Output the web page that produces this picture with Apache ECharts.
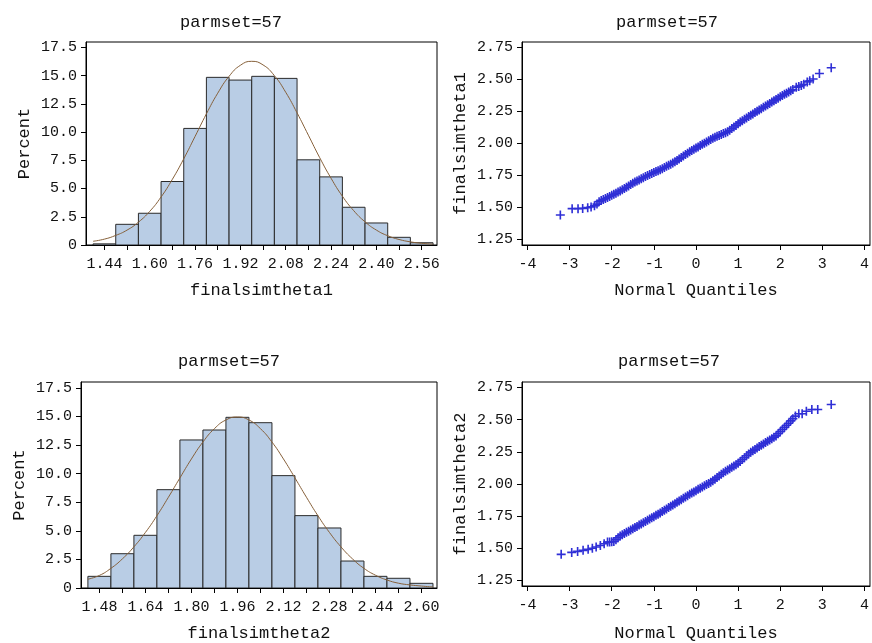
<!DOCTYPE html>
<html>
<head>
<meta charset="utf-8">
<script src="https://cdn.jsdelivr.net/npm/echarts@6/dist/echarts.min.js"></script>
<style>
  html, body { margin: 0; padding: 0; background: #ffffff; }
  #chart { width: 872px; height: 643px; }
</style>
</head>
<body>
<div id="chart"></div>
<script>
// ---- data ----------------------------------------------------------
const panelTitle = 'parmset=57';
const binWidth = 0.08;

// finalsimtheta1 histogram (bin midpoints, percent)
const theta1Mid = [1.44, 1.52, 1.60, 1.68, 1.76, 1.84, 1.92, 2.00, 2.08, 2.16, 2.24, 2.32, 2.40, 2.48, 2.56];
const theta1Pct = [0.1, 1.83, 2.81, 5.62, 10.32, 14.84, 14.6, 14.93, 14.75, 7.54, 6.03, 3.34, 1.95, 0.68, 0.2];
// fitted normal curve for finalsimtheta1
const theta1CurveX = [1.40, 1.44, 1.48, 1.52, 1.56, 1.60, 1.64, 1.68, 1.72, 1.76, 1.80, 1.84, 1.88, 1.92, 1.96, 2.00,
  2.04, 2.08, 2.12, 2.16, 2.20, 2.24, 2.28, 2.32, 2.36, 2.40, 2.44, 2.48, 2.52, 2.56, 2.60];
const theta1CurveY = [0.33, 0.52, 0.85, 1.32, 2.02, 2.98, 4.25, 5.82, 7.63, 9.61, 11.61, 13.44, 14.93, 15.91, 16.26, 15.94,
  14.99, 13.52, 11.70, 9.72, 7.73, 5.91, 4.32, 3.04, 2.05, 1.32, 0.82, 0.49, 0.28, 0.15, 0.08];

// finalsimtheta2 histogram
const theta2Mid = [1.48, 1.56, 1.64, 1.72, 1.80, 1.88, 1.96, 2.04, 2.12, 2.20, 2.28, 2.36, 2.44, 2.52, 2.60];
const theta2Pct = [1.02, 3.0, 4.61, 8.6, 12.95, 13.82, 14.93, 14.46, 9.83, 6.33, 5.25, 2.36, 1.02, 0.85, 0.41];
const theta2CurveX = [1.44, 1.48, 1.52, 1.56, 1.60, 1.64, 1.68, 1.72, 1.76, 1.80, 1.84, 1.88, 1.92, 1.96, 2.00, 2.04,
  2.08, 2.12, 2.16, 2.20, 2.24, 2.28, 2.32, 2.36, 2.40, 2.44, 2.48, 2.52, 2.56, 2.60, 2.64];
const theta2CurveY = [0.77, 1.10, 1.72, 2.55, 3.60, 4.86, 6.32, 7.94, 9.63, 11.29, 12.77, 13.94, 14.70, 14.96, 14.70, 13.94,
  12.77, 11.29, 9.63, 7.94, 6.32, 4.86, 3.60, 2.55, 1.72, 1.12, 0.70, 0.42, 0.27, 0.17, 0.09];

// normal quantile plot, finalsimtheta1: sparse tails and the dense middle band
const qq1LowX = [-3.22, -2.94, -2.80, -2.69, -2.57, -2.49, -2.41, -2.35];
const qq1LowY = [1.440, 1.489, 1.489, 1.491, 1.497, 1.503, 1.512, 1.525];
const qq1MidX = [-2.30, -2.25, -2.20, -2.15, -2.10, -2.05, -2.00, -1.95, -1.90, -1.85, -1.80, -1.75, -1.70, -1.65, -1.60,
  -1.55, -1.50, -1.45, -1.40, -1.35, -1.30, -1.25, -1.20, -1.15, -1.10, -1.05, -1.00, -0.95, -0.90, -0.85, -0.80,
  -0.75, -0.70, -0.65, -0.60, -0.55, -0.50, -0.45, -0.40, -0.35, -0.30, -0.25, -0.20, -0.15, -0.10, -0.05, 0.00,
  0.05, 0.10, 0.15, 0.20, 0.25, 0.30, 0.35, 0.40, 0.45, 0.50, 0.55, 0.60, 0.65, 0.70, 0.75, 0.80,
  0.85, 0.90, 0.95, 1.00, 1.05, 1.10, 1.15, 1.20, 1.25, 1.30, 1.35, 1.40, 1.45, 1.50, 1.55, 1.60,
  1.65, 1.70, 1.75, 1.80, 1.85, 1.90, 1.95, 2.00, 2.05, 2.10, 2.15, 2.20, 2.25, 2.30];
const qq1MidY = [1.544, 1.552, 1.560, 1.568, 1.576, 1.585, 1.593, 1.602, 1.610, 1.619, 1.627, 1.636, 1.646, 1.656, 1.667,
  1.677, 1.687, 1.697, 1.706, 1.714, 1.723, 1.731, 1.740, 1.748, 1.756, 1.764, 1.771, 1.779, 1.786, 1.794, 1.802,
  1.811, 1.820, 1.828, 1.837, 1.846, 1.855, 1.866, 1.878, 1.889, 1.901, 1.912, 1.923, 1.934, 1.944, 1.953, 1.963,
  1.972, 1.982, 1.992, 2.001, 2.011, 2.020, 2.029, 2.039, 2.048, 2.055, 2.062, 2.069, 2.076, 2.083, 2.091, 2.102,
  2.115, 2.128, 2.140, 2.153, 2.166, 2.177, 2.188, 2.198, 2.209, 2.219, 2.230, 2.240, 2.250, 2.260, 2.271, 2.281,
  2.291, 2.301, 2.312, 2.322, 2.333, 2.343, 2.353, 2.364, 2.373, 2.383, 2.392, 2.402, 2.411, 2.420];
const qq1HighX = [2.38, 2.44, 2.50, 2.56, 2.64, 2.70, 2.78, 2.93, 3.21];
const qq1HighY = [2.438, 2.445, 2.452, 2.462, 2.480, 2.489, 2.503, 2.546, 2.591];

// normal quantile plot, finalsimtheta2
const qq2LowX = [-3.20, -2.95, -2.81, -2.68, -2.56, -2.46, -2.37, -2.27, -2.18];
const qq2LowY = [1.453, 1.468, 1.476, 1.484, 1.492, 1.500, 1.510, 1.522, 1.535];
const qq2MidX = [-2.10, -2.05, -2.00, -1.95, -1.90, -1.85, -1.80, -1.75, -1.70, -1.65, -1.60,
  -1.55, -1.50, -1.45, -1.40, -1.35, -1.30, -1.25, -1.20, -1.15, -1.10, -1.05, -1.00, -0.95, -0.90, -0.85, -0.80,
  -0.75, -0.70, -0.65, -0.60, -0.55, -0.50, -0.45, -0.40, -0.35, -0.30, -0.25, -0.20, -0.15, -0.10, -0.05, 0.00,
  0.05, 0.10, 0.15, 0.20, 0.25, 0.30, 0.35, 0.40, 0.45, 0.50, 0.55, 0.60, 0.65, 0.70, 0.75, 0.80,
  0.85, 0.90, 0.95, 1.00, 1.05, 1.10, 1.15, 1.20, 1.25, 1.30, 1.35, 1.40, 1.45, 1.50, 1.55, 1.60,
  1.65, 1.70, 1.75, 1.80, 1.85, 1.90, 1.95, 2.00, 2.05, 2.10, 2.15, 2.20, 2.25, 2.30];
const qq2MidY = [1.548, 1.549, 1.551, 1.553, 1.567, 1.582, 1.596, 1.606, 1.615, 1.624, 1.633,
  1.642, 1.651, 1.661, 1.670, 1.680, 1.689, 1.699, 1.708, 1.718, 1.727, 1.737, 1.746, 1.756, 1.765, 1.775, 1.785,
  1.796, 1.806, 1.816, 1.827, 1.837, 1.847, 1.858, 1.868, 1.878, 1.889, 1.899, 1.909, 1.919, 1.929, 1.938, 1.948,
  1.958, 1.967, 1.976, 1.986, 1.995, 2.004, 2.013, 2.025, 2.037, 2.050, 2.062, 2.075, 2.087, 2.098, 2.108, 2.118,
  2.129, 2.139, 2.149, 2.161, 2.175, 2.190, 2.204, 2.219, 2.233, 2.247, 2.258, 2.268, 2.279, 2.290, 2.300, 2.311,
  2.321, 2.332, 2.342, 2.352, 2.363, 2.373, 2.390, 2.406, 2.423, 2.439, 2.456, 2.472, 2.490, 2.507];
const qq2HighX = [2.36, 2.44, 2.52, 2.62, 2.75, 2.89, 3.21];
const qq2HighY = [2.527, 2.545, 2.545, 2.565, 2.578, 2.578, 2.617];

// axis tick values
const pctTicks = [0, 2.5, 5, 7.5, 10, 12.5, 15, 17.5];
const qqYTicks = [1.25, 1.5, 1.75, 2.0, 2.25, 2.5, 2.75];
const qqXTicks = [-4, -3, -2, -1, 0, 1, 2, 3, 4];
const theta1Labels = [1.44, 1.60, 1.76, 1.92, 2.08, 2.24, 2.40, 2.56];
const theta2Labels = [1.48, 1.64, 1.80, 1.96, 2.12, 2.28, 2.44, 2.60];

// ---- styling -------------------------------------------------------
const FONT = '"Liberation Mono", "DejaVu Sans Mono", monospace';
const INK = '#111111';
const BAR_FILL = '#b9cde5';
const BAR_EDGE = '#2a2a2a';
const CURVE = '#86603a';
const MARK = '#2f2fd6';
// plus-sign marker as a filled outline
const PLUS = 'path://M4.1,0H5.9V4.1H10V5.9H5.9V10H4.1V5.9H0V4.1H4.1Z';

const labelStyle = { fontFamily: FONT, fontSize: 15, color: INK };
const nameStyle = { fontFamily: FONT, fontSize: 17, color: INK };
const titleStyle = { fontFamily: FONT, fontSize: 17, color: INK, fontWeight: 'normal' };

function valueAxis(idx, o) {
  return Object.assign({
    type: 'value',
    gridIndex: idx,
    scale: true,
    splitLine: { show: false },
    axisLine: { show: true, onZero: false, lineStyle: { color: '#000', width: 1 } },
    nameLocation: 'middle',
    nameTextStyle: nameStyle
  }, o);
}

function ticks(values) {
  return { show: true, inside: false, length: 5, lineStyle: { color: '#000' }, customValues: values };
}

function barItem(params, api) {
  const x = api.value(0), h = api.value(1), w = api.value(2);
  const p0 = api.coord([x - w / 2, h]);
  const p1 = api.coord([x + w / 2, 0]);
  return {
    type: 'rect',
    shape: { x: p0[0], y: p0[1], width: p1[0] - p0[0], height: p1[1] - p0[1] },
    style: { fill: BAR_FILL, stroke: BAR_EDGE, lineWidth: 1 }
  };
}

function zip(a, b) { return a.map((v, i) => [v, b[i]]); }
function qqPoints(xs, ys) {
  return xs.reduce((acc, part, k) => acc.concat(zip(part, ys[k])), []);
}

const fmtPct = v => (v === 0 ? '0' : v.toFixed(1));
const fmt2 = v => v.toFixed(2);
const fmtInt = v => String(v);

const chart = echarts.init(document.getElementById('chart'), null, { renderer: 'canvas' });

const option = {
  animation: false,
  backgroundColor: '#ffffff',
  textStyle: { fontFamily: FONT },
  title: [
    { text: panelTitle, left: 226, top: 9, textAlign: 'center', textStyle: titleStyle },
    { text: panelTitle, left: 662, top: 9, textAlign: 'center', textStyle: titleStyle },
    { text: panelTitle, left: 224, top: 348, textAlign: 'center', textStyle: titleStyle },
    { text: panelTitle, left: 664, top: 348, textAlign: 'center', textStyle: titleStyle }
  ],
  grid: [
    { left: 86, top: 42, width: 351, height: 203, show: true, borderColor: '#000', borderWidth: 1, backgroundColor: '#fff' },
    { left: 522, top: 42, width: 352, height: 203, show: true, borderColor: '#000', borderWidth: 1, backgroundColor: '#fff' },
    { left: 81, top: 382, width: 356, height: 206, show: true, borderColor: '#000', borderWidth: 1, backgroundColor: '#fff' },
    { left: 522, top: 382, width: 358, height: 206, show: true, borderColor: '#000', borderWidth: 1, backgroundColor: '#fff' }
  ],
  xAxis: [
    valueAxis(0, {
      min: 1.375, max: 2.614, name: 'finalsimtheta1', nameGap: 37,
      axisTick: ticks(theta1Mid),
      axisLabel: Object.assign({ margin: 12, customValues: theta1Labels, formatter: fmt2 }, labelStyle)
    }),
    valueAxis(1, {
      min: -4.13, max: 4.13, name: 'Normal Quantiles', nameGap: 37,
      axisTick: ticks(qqXTicks),
      axisLabel: Object.assign({ margin: 12, customValues: qqXTicks, formatter: fmtInt }, labelStyle)
    }),
    valueAxis(2, {
      min: 1.416, max: 2.654, name: 'finalsimtheta2', nameGap: 37,
      axisTick: ticks(theta2Mid),
      axisLabel: Object.assign({ margin: 12, customValues: theta2Labels, formatter: fmt2 }, labelStyle)
    }),
    valueAxis(3, {
      min: -4.13, max: 4.13, name: 'Normal Quantiles', nameGap: 39,
      axisTick: ticks(qqXTicks),
      axisLabel: Object.assign({ margin: 12, customValues: qqXTicks, formatter: fmtInt }, labelStyle)
    })
  ],
  yAxis: [
    valueAxis(0, {
      min: 0, max: 17.97, name: 'Percent', nameGap: 53,
      axisTick: ticks(pctTicks),
      axisLabel: Object.assign({ margin: 9, customValues: pctTicks, formatter: fmtPct }, labelStyle)
    }),
    valueAxis(1, {
      min: 1.205, max: 2.792, name: 'finalsimtheta1', nameGap: 53,
      axisTick: ticks(qqYTicks),
      axisLabel: Object.assign({ margin: 9, customValues: qqYTicks, formatter: fmt2 }, labelStyle)
    }),
    valueAxis(2, {
      min: 0, max: 18.02, name: 'Percent', nameGap: 53,
      axisTick: ticks(pctTicks),
      axisLabel: Object.assign({ margin: 9, customValues: pctTicks, formatter: fmtPct }, labelStyle)
    }),
    valueAxis(3, {
      min: 1.207, max: 2.792, name: 'finalsimtheta2', nameGap: 53,
      axisTick: ticks(qqYTicks),
      axisLabel: Object.assign({ margin: 9, customValues: qqYTicks, formatter: fmt2 }, labelStyle)
    })
  ],
  series: [
    { type: 'custom', xAxisIndex: 0, yAxisIndex: 0, renderItem: barItem, clip: true,
      data: theta1Mid.map((m, i) => [m, theta1Pct[i], binWidth]) },
    { type: 'line', xAxisIndex: 0, yAxisIndex: 0, smooth: true, showSymbol: false, symbol: 'none',
      lineStyle: { color: CURVE, width: 1 }, data: zip(theta1CurveX, theta1CurveY), z: 5 },
    { type: 'scatter', xAxisIndex: 1, yAxisIndex: 1, symbol: PLUS, symbolSize: 9,
      itemStyle: { color: MARK, opacity: 1 },
      data: qqPoints([qq1LowX, qq1MidX, qq1HighX], [qq1LowY, qq1MidY, qq1HighY]) },
    { type: 'custom', xAxisIndex: 2, yAxisIndex: 2, renderItem: barItem, clip: true,
      data: theta2Mid.map((m, i) => [m, theta2Pct[i], binWidth]) },
    { type: 'line', xAxisIndex: 2, yAxisIndex: 2, smooth: true, showSymbol: false, symbol: 'none',
      lineStyle: { color: CURVE, width: 1 }, data: zip(theta2CurveX, theta2CurveY), z: 5 },
    { type: 'scatter', xAxisIndex: 3, yAxisIndex: 3, symbol: PLUS, symbolSize: 9,
      itemStyle: { color: MARK, opacity: 1 },
      data: qqPoints([qq2LowX, qq2MidX, qq2HighX], [qq2LowY, qq2MidY, qq2HighY]) }
  ]
};

chart.setOption(option);
</script>
</body>
</html>
